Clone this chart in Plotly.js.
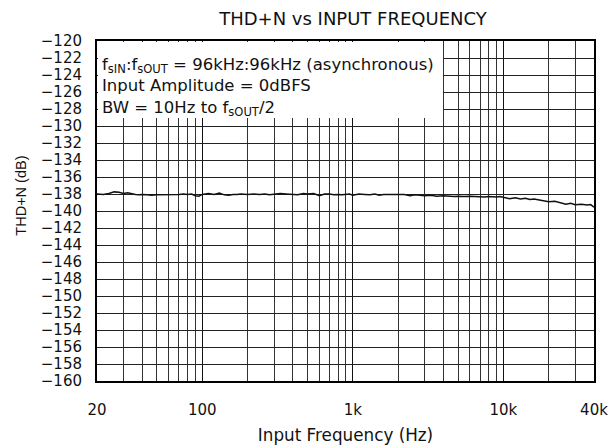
<!DOCTYPE html>
<html><head><meta charset="utf-8">
<script src="https://cdn.plot.ly/plotly-3.0.1.min.js"></script>
<style>html,body{margin:0;padding:0;background:#fff}#c{width:614px;height:445px}</style>
</head><body><div id="c"></div>
<script>
const freq = [20,22,24,26,28,30,32,34,36,38,40,43,46,50,53,56,60,65,70,75,80,85,90,95,100,110,120,130,140,150,160,170,180,200,220,240,260,280,300,330,360,400,430,470,500,550,600,650,700,750,800,850,900,950,1000,1100,1200,1300,1400,1500,1600,1800,2000,2200,2400,2600,2800,3000,3300,3600,4000,4300,4700,5000,5500,6000,6500,7000,7500,8000,8500,9000,9500,10000,11000,12000,13000,14000,15000,16000,18000,20000,22000,24000,26000,28000,30000,33000,36000,38000,40000];
const thdn = [-138.0,-138.05,-137.95,-137.75,-137.8,-137.95,-137.85,-138.0,-138.05,-138.1,-138.05,-138.1,-138.15,-138.1,-138.1,-138.05,-138.1,-138.05,-138.05,-138.0,-138.05,-138.0,-138.2,-138.25,-138.05,-137.95,-138.05,-137.9,-138.1,-138.15,-138.05,-138.05,-138.0,-138.05,-138.0,-138.05,-138.0,-138.1,-138.0,-137.95,-138.0,-138.05,-138.1,-137.95,-138.0,-137.95,-138.2,-138.0,-138.0,-138.1,-138.05,-138.1,-138.05,-138.0,-138.15,-138.0,-138.05,-138.1,-138.0,-138.15,-138.05,-138.05,-138.1,-138.05,-138.2,-138.1,-138.15,-138.2,-138.15,-138.25,-138.2,-138.25,-138.3,-138.25,-138.3,-138.25,-138.3,-138.3,-138.35,-138.3,-138.35,-138.35,-138.3,-138.4,-138.55,-138.45,-138.6,-138.5,-138.65,-138.6,-138.8,-138.9,-138.85,-139.05,-139.2,-139.1,-139.25,-139.2,-139.3,-139.25,-139.55];
const majorTicks = [20,100,1000,10000,40000];
const majorText = ["20","100","1k","10k","40k"];
const minorTicks = [30,40,50,60,70,80,90,200,300,400,500,600,700,800,900,2000,3000,4000,5000,6000,7000,8000,9000,20000,30000];
const note = "f<sub>sIN</sub>:f<sub>sOUT</sub> = 96kHz:96kHz (asynchronous)<br>Input Amplitude = 0dBFS<br>BW = 10Hz to f<sub>sOUT</sub>/2";
const yTitle = "THD+N (dB)";

const fam = "DejaVu Sans, Arial, sans-serif";
const font = {family:fam, size:15, color:"#111"};
Plotly.newPlot("c", [{
  x: freq, y: thdn, type:"scatter", mode:"lines",
  line:{color:"#111", width:1.5}, hoverinfo:"skip"
}], {
  width:614, height:445,
  margin:{l:97, r:20, t:41, b:64},
  paper_bgcolor:"#fff", plot_bgcolor:"#fff",
  font: font,
  showlegend:false,
  title:{text:"THD+N vs INPUT FREQUENCY", font:{family:fam, size:18, color:"#111"}, x:0.515, xref:"paper", xanchor:"center", y:0.957, yanchor:"middle"},
  xaxis:{type:"log", range:[Math.log10(20), Math.log10(40000)],
    tickmode:"array", tickvals:majorTicks, ticktext:majorText,
    showgrid:true, gridcolor:"#111", gridwidth:1.3,
    minor:{tickmode:"array", tickvals:minorTicks, showgrid:true, gridcolor:"#333", gridwidth:1, ticks:""},
    ticks:"", ticklabelstandoff:14,
    showline:true, linecolor:"#000", linewidth:2, mirror:true, zeroline:false,
    title:{text:"Input Frequency (Hz)", standoff:12, font:{family:fam, size:16.8}}
  },
  yaxis:{range:[-160,-120], dtick:2, tick0:-160,
    showgrid:true, gridcolor:"#222", gridwidth:1,
    ticks:"", ticklabelstandoff:10,
    showline:true, linecolor:"#000", linewidth:2, mirror:true, zeroline:false
  },
  shapes:[{type:"rect", layer:"above", xref:"paper", yref:"paper",
    xsizemode:"pixel", xanchor:0, x0:1, x1:346,
    ysizemode:"pixel", yanchor:1, y0:-1, y1:-77,
    fillcolor:"#fff", line:{width:0}}],
  annotations:[
    {xref:"paper", yref:"paper", x:0, y:1, xanchor:"left", yanchor:"top",
     xshift:0, yshift:-9, text:note, showarrow:false, align:"left",
     borderpad:4, font:{family:fam, size:16.5, color:"#111"}},
    {xref:"paper", yref:"paper", x:-0.153, y:0.545, xanchor:"center", yanchor:"middle",
     textangle:-90, text:yTitle, showarrow:false,
     font:{family:"Liberation Sans, Arial, sans-serif", size:14.5, color:"#111"}}
  ]
}, {staticPlot:true, displayModeBar:false});
</script></body></html>
